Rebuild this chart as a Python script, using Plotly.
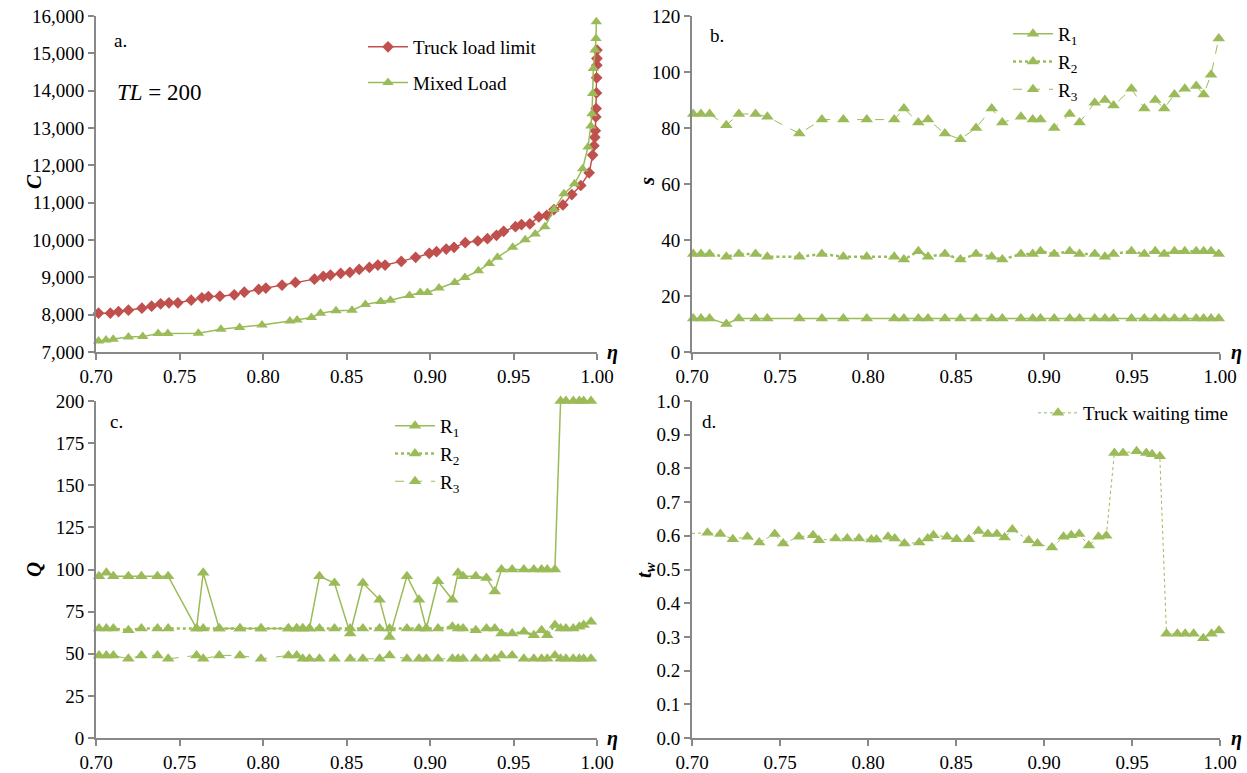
import plotly.graph_objects as go

# ---------------- data ----------------
# panel a: truck load limit (red diamonds)
eta_tll = [0.7015, 0.7086, 0.7135, 0.7194, 0.7275, 0.7333, 0.7387, 0.7437, 0.7490, 0.7570,
           0.7634, 0.7673, 0.7742, 0.7828, 0.7888, 0.7974, 0.8017, 0.8114, 0.8194, 0.8308,
           0.8361, 0.8404, 0.8465, 0.8520, 0.8576, 0.8637, 0.8688, 0.8731, 0.8828, 0.8914,
           0.8996, 0.9039, 0.9097, 0.9144, 0.9211, 0.9286, 0.9344, 0.9398, 0.9441, 0.9512,
           0.9548, 0.9598, 0.9652, 0.9699, 0.9742, 0.9796, 0.9849, 0.9903, 0.9953, 0.9974,
           0.9982, 0.9987, 0.9990, 0.9993, 0.9995, 0.9997, 0.9998, 0.9999, 0.99995, 1.0000]
cost_tll = [8039, 8039, 8084, 8120, 8173, 8227, 8290, 8317, 8317, 8388,
            8451, 8487, 8496, 8532, 8603, 8675, 8711, 8791, 8863, 8952,
            9024, 9060, 9105, 9131, 9212, 9266, 9329, 9329, 9427, 9535,
            9642, 9687, 9758, 9803, 9928, 9973, 10036, 10125, 10233, 10358,
            10412, 10430, 10618, 10663, 10815, 10940, 11218, 11460, 11800, 12275,
            12525, 12749, 12928, 13296, 13519, 13940, 14343, 14684, 14863, 15087]

# panel a: mixed load (green triangles)
eta_ml = [0.7015, 0.7060, 0.7103, 0.7194, 0.7280, 0.7372, 0.7430, 0.7613, 0.7748, 0.7860,
          0.7994, 0.8161, 0.8204, 0.8290, 0.8344, 0.8437, 0.8533, 0.8613, 0.8705, 0.8763,
          0.8877, 0.8942, 0.8985, 0.9054, 0.9148, 0.9209, 0.9290, 0.9355, 0.9404, 0.9495,
          0.9570, 0.9630, 0.9688, 0.9742, 0.9802, 0.9865, 0.9914, 0.9946, 0.9963, 0.9970,
          0.9974, 0.9978, 0.9989, 0.9994, 0.9996]
cost_ml = [7296, 7322, 7340, 7403, 7412, 7493, 7493, 7502, 7609, 7654,
           7726, 7833, 7860, 7923, 8039, 8102, 8120, 8272, 8353, 8388,
           8513, 8594, 8594, 8711, 8863, 8997, 9176, 9373, 9535, 9803,
           10009, 10161, 10358, 10815, 11236, 11505, 11908, 12490, 13054, 13385,
           13922, 14594, 15087, 15400, 15848]

# panel b: s for R1, R2, R3
eta_b = [0.7007, 0.7051, 0.7100, 0.7195, 0.7266, 0.7361, 0.7428, 0.7610, 0.7738, 0.7860,
         0.7993, 0.8149, 0.8204, 0.8286, 0.8341, 0.8437, 0.8525, 0.8614, 0.8703, 0.8763,
         0.8869, 0.8936, 0.8980, 0.9058, 0.9146, 0.9202, 0.9288, 0.9346, 0.9395, 0.9497,
         0.9570, 0.9632, 0.9683, 0.9741, 0.9800, 0.9865, 0.9907, 0.9949, 0.9993]
s_r1 = [12, 12, 12, 10, 12, 12, 12, 12, 12, 12,
        12, 12, 12, 12, 12, 12, 12, 12, 12, 12,
        12, 12, 12, 12, 12, 12, 12, 12, 12, 12,
        12, 12, 12, 12, 12, 12, 12, 12, 12]
s_r2 = [35, 35, 35, 34, 35, 35, 34, 34, 35, 34,
        34, 34, 33, 36, 34, 35, 33, 35, 34, 33,
        35, 35, 36, 35, 36, 35, 35, 34, 35, 36,
        35, 36, 35, 36, 36, 36, 36, 36, 35]
s_r3 = [85, 85, 85, 81, 85, 85, 84, 78, 83, 83,
        83, 83, 87, 82, 83, 78, 76, 80, 87, 82,
        84, 83, 83, 80, 85, 82, 89, 90, 88, 94,
        87, 90, 87, 92, 94, 95, 92, 99, 112]

# panel c: Q for R1, R2, R3
eta_c = [0.7018, 0.7062, 0.7104, 0.7194, 0.7272, 0.7368, 0.7432, 0.7602, 0.7642, 0.7738,
         0.7862, 0.7988, 0.8152, 0.8202, 0.8238, 0.8278, 0.8338, 0.8428, 0.8522, 0.8598,
         0.8698, 0.8758, 0.8862, 0.8934, 0.8978, 0.9048, 0.9134, 0.9168, 0.9198, 0.9274,
         0.9338, 0.9388, 0.9428, 0.9492, 0.9562, 0.9622, 0.9668, 0.9702, 0.9748, 0.9782,
         0.9814, 0.9858, 0.9894, 0.9920, 0.9964]
q_r1 = [96, 98, 96, 96, 96, 96, 96, 65, 98, 65,
        65, 65, 65, 65, 65, 65, 96, 92, 62, 92,
        82, 60, 96, 82, 65, 93, 82, 98, 96, 96,
        95, 87, 100, 100, 100, 100, 100, 100, 100, 200,
        200, 200, 200, 200, 200]
q_r2 = [65, 65, 65, 64, 65, 65, 65, 65, 65, 65,
        65, 65, 65, 65, 65, 65, 65, 65, 65, 65,
        65, 65, 65, 65, 65, 65, 66, 65, 65, 64,
        65, 65, 62, 62, 63, 61, 64, 61, 67, 65,
        65, 65, 66, 67, 69]
q_r3 = [49, 49, 49, 47, 49, 49, 47, 49, 47, 49,
        49, 47, 49, 49, 47, 47, 47, 47, 47, 47,
        47, 49, 47, 47, 47, 47, 47, 47, 47, 47,
        47, 47, 49, 49, 47, 47, 47, 47, 49, 47,
        47, 47, 47, 47, 47]

# panel d: truck waiting time
eta_d = [0.7000, 0.7088, 0.7161, 0.7232, 0.7315, 0.7382, 0.7470, 0.7518, 0.7607, 0.7688,
         0.7721, 0.7816, 0.7882, 0.7949, 0.8019, 0.8048, 0.8114, 0.8152, 0.8207, 0.8291,
         0.8339, 0.8372, 0.8449, 0.8504, 0.8573, 0.8628, 0.8681, 0.8732, 0.8776, 0.8820,
         0.8913, 0.8963, 0.9045, 0.9111, 0.9155, 0.9200, 0.9255, 0.9310, 0.9354, 0.9400,
         0.9449, 0.9526, 0.9581, 0.9614, 0.9658, 0.9696, 0.9758, 0.9802, 0.9850, 0.9905,
         0.9952, 0.9994]
tw = [0.607, 0.609, 0.605, 0.590, 0.597, 0.580, 0.605, 0.577, 0.597, 0.602,
      0.587, 0.592, 0.592, 0.592, 0.589, 0.589, 0.597, 0.592, 0.577, 0.580,
      0.592, 0.602, 0.597, 0.590, 0.590, 0.614, 0.605, 0.605, 0.595, 0.619,
      0.587, 0.577, 0.565, 0.597, 0.602, 0.605, 0.571, 0.597, 0.600, 0.846,
      0.846, 0.851, 0.846, 0.842, 0.836, 0.309, 0.309, 0.309, 0.309, 0.296,
      0.309, 0.319]

x_ticks = [0.70, 0.75, 0.80, 0.85, 0.90, 0.95, 1.00]

# ---------------- style ----------------
GREEN = "#9BBB59"
RED = "#C0504D"
AXC = "#888888"
FONT = "Times New Roman, Liberation Serif, DejaVu Serif, serif"
FS = 19
W, H = 1247, 773


def px(x):
    return x / W


def py(y):
    return 1 - y / H


fig = go.Figure()

tri = dict(symbol="triangle-up", size=11, color=GREEN)

# panel a
fig.add_trace(go.Scatter(x=eta_tll, y=cost_tll, mode="lines+markers", name="Truck load limit",
                         line=dict(color=RED, width=1.5),
                         marker=dict(symbol="diamond", size=9, color=RED),
                         xaxis="x", yaxis="y", legend="legend", legendgroup="a1",
                         cliponaxis=False))
fig.add_trace(go.Scatter(x=eta_ml, y=cost_ml, mode="lines+markers", name="Mixed Load",
                         line=dict(color=GREEN, width=1.5), marker=dict(tri, size=10),
                         xaxis="x", yaxis="y", legend="legend", legendgroup="a2",
                         cliponaxis=False))

# panel b
fig.add_trace(go.Scatter(x=eta_b, y=s_r1, mode="lines+markers", name="R<sub>1</sub>",
                         line=dict(color=GREEN, width=1.5), marker=tri,
                         xaxis="x2", yaxis="y2", legend="legend2", cliponaxis=False))
fig.add_trace(go.Scatter(x=eta_b, y=s_r2, mode="lines+markers", name="R<sub>2</sub>",
                         line=dict(color=GREEN, width=2.5, dash="dot"), marker=tri,
                         xaxis="x2", yaxis="y2", legend="legend2", cliponaxis=False))
fig.add_trace(go.Scatter(x=eta_b, y=s_r3, mode="lines+markers", name="R<sub>3</sub>",
                         line=dict(color=GREEN, width=1, dash="dash"), marker=tri,
                         xaxis="x2", yaxis="y2", legend="legend2", cliponaxis=False))

# panel c
fig.add_trace(go.Scatter(x=eta_c, y=q_r1, mode="lines+markers", name="R<sub>1</sub>",
                         line=dict(color=GREEN, width=1.5), marker=tri,
                         xaxis="x3", yaxis="y3", legend="legend3", cliponaxis=False))
fig.add_trace(go.Scatter(x=eta_c, y=q_r2, mode="lines+markers", name="R<sub>2</sub>",
                         line=dict(color=GREEN, width=2.5, dash="dot"), marker=tri,
                         xaxis="x3", yaxis="y3", legend="legend3", cliponaxis=False))
fig.add_trace(go.Scatter(x=eta_c, y=q_r3, mode="lines+markers", name="R<sub>3</sub>",
                         line=dict(color=GREEN, width=1, dash="dash"), marker=tri,
                         xaxis="x3", yaxis="y3", legend="legend3", cliponaxis=False))

# panel d (first point only carries the line in from the axis edge)
op_d = [0] + [1] * (len(eta_d) - 1)
fig.add_trace(go.Scatter(x=eta_d, y=tw, mode="lines+markers", name="Truck waiting time",
                         line=dict(color=GREEN, width=1, dash="dot"),
                         marker=dict(tri, opacity=op_d),
                         xaxis="x4", yaxis="y4", legend="legend4", cliponaxis=False))

# ---------------- axes ----------------
def xax(dom, anchor):
    return dict(domain=dom, anchor=anchor, range=[0.70, 1.00], tickvals=x_ticks,
                tickformat=".2f", showgrid=False, zeroline=False, showline=True,
                linecolor=AXC, linewidth=2, ticks="outside", ticklen=6, tickcolor=AXC,
                tickwidth=1.5, automargin=False, ticklabeloverflow="allow",
                tickfont=dict(family=FONT, size=FS, color="black"))


def yax(dom, anchor, rng, dtick, fmt):
    return dict(domain=dom, anchor=anchor, range=rng, dtick=dtick, tick0=rng[0],
                tickformat=fmt, showgrid=False, zeroline=False, showline=True,
                linecolor=AXC, linewidth=2, ticks="outside", ticklen=6, tickcolor=AXC,
                tickwidth=1.5, automargin=False, ticklabeloverflow="allow",
                tickfont=dict(family=FONT, size=FS, color="black"))


xa_l = [px(96), px(597)]
xa_r = [px(692), px(1220)]
ya_t = [py(352), py(16)]
ya_b = [py(738), py(401)]

leg = dict(xanchor="left", yanchor="top", bgcolor="rgba(0,0,0,0)",
           font=dict(family=FONT, size=FS, color="black"), itemwidth=40)

fig.update_layout(
    width=W, height=H, margin=dict(l=0, r=0, t=0, b=0, pad=0, autoexpand=False),
    paper_bgcolor="white", plot_bgcolor="white",
    font=dict(family=FONT, size=FS, color="black"),
    xaxis=xax(xa_l, "y"), yaxis=yax(ya_t, "x", [7000, 16000], 1000, ","),
    xaxis2=xax(xa_r, "y2"), yaxis2=yax(ya_t, "x2", [0, 120], 20, "d"),
    xaxis3=xax(xa_l, "y3"), yaxis3=yax(ya_b, "x3", [0, 200], 25, "d"),
    xaxis4=xax(xa_r, "y4"), yaxis4=yax(ya_b, "x4", [0, 1.0], 0.1, ".1f"),
    legend=dict(leg, x=px(363), y=py(28), traceorder="grouped", tracegroupgap=8),
    legend2=dict(leg, x=px(1008), y=py(15)),
    legend3=dict(leg, x=px(390), y=py(407)),
    legend4=dict(leg, x=px(1033), y=py(394)),
    showlegend=True,
)

# ---------------- annotations ----------------
def ann(text, x, y, size=FS, angle=0, xanchor="center"):
    fig.add_annotation(text=text, x=px(x), y=py(y), xref="paper", yref="paper",
                       showarrow=False, textangle=angle, xanchor=xanchor, yanchor="middle",
                       font=dict(family=FONT, size=size, color="black"))


ann("a.", 112, 40, xanchor="left")
ann("b.", 708, 35, xanchor="left")
ann("c.", 108, 421, xanchor="left")
ann("d.", 700, 422, xanchor="left")
ann("<i>TL</i> = 200", 115, 92, size=23, xanchor="left")

ann("<b><i>C</i></b>", 34, 182, size=21, angle=-90)
ann("<b><i>s</i></b>", 647, 182, size=21, angle=-90)
ann("<b><i>Q</i></b>", 34, 570, size=21, angle=-90)
ann("<b><i>t</i></b><sub><b><i>w</i></b></sub>", 645, 570, size=21, angle=-90)

ann("<b><i>η</i></b>", 612, 352, size=20)
ann("<b><i>η</i></b>", 1236, 352, size=20)
ann("<b><i>η</i></b>", 612, 738, size=20)
ann("<b><i>η</i></b>", 1236, 738, size=20)

# remove the default page margin so the figure fills the 1247x773 window exactly
fig.write_html("out.html", config={"displayModeBar": False},
               post_script="document.body.style.margin='0';"
                           "document.body.style.overflow='hidden';")
